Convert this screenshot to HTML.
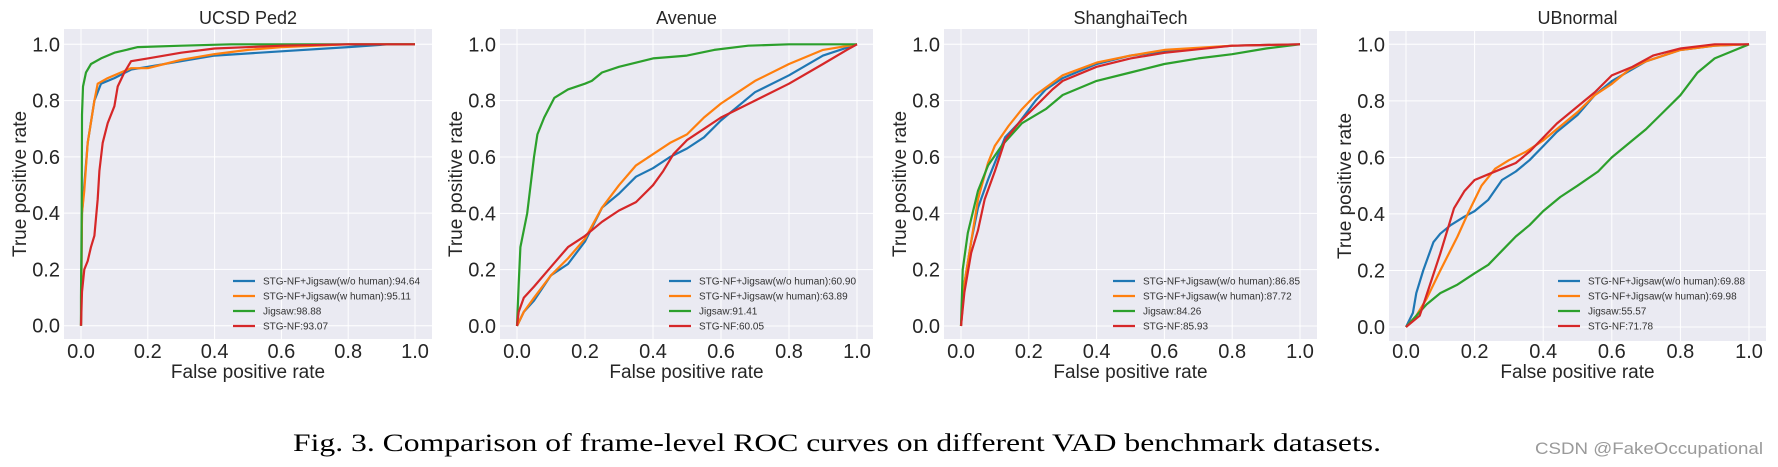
<!DOCTYPE html>
<html><head><meta charset="utf-8">
<style>
body{margin:0;background:#fff;width:1778px;height:467px;overflow:hidden}
svg{display:block;font-family:"Liberation Sans",Arial,sans-serif}
</style></head>
<body>
<svg id="fig" width="1778" height="467" viewBox="0 0 1778 467" xmlns="http://www.w3.org/2000/svg">
<text x="837" y="451" text-anchor="middle" font-family="Liberation Serif,serif" font-size="25" fill="#000" textLength="1088" lengthAdjust="spacingAndGlyphs">Fig. 3.  Comparison of frame-level ROC curves on different VAD benchmark datasets.</text>
<text x="1763" y="454" text-anchor="end" font-size="17" fill="#9a9a9a" textLength="228" lengthAdjust="spacingAndGlyphs">CSDN @FakeOccupational</text>
</svg>
<script>
const ticks=[0,0.2,0.4,0.6,0.8,1.0];
const tickLabels=["0.0","0.2","0.4","0.6","0.8","1.0"];
const seriesColors=["#1f77b4","#ff7f0e","#2ca02c","#d62728"];
const titles=["UCSD Ped2","Avenue","ShanghaiTech","UBnormal"];
const legendNames=[
["STG-NF+Jigsaw(w/o human):94.64","STG-NF+Jigsaw(w human):95.11","Jigsaw:98.88","STG-NF:93.07"],
["STG-NF+Jigsaw(w/o human):60.90","STG-NF+Jigsaw(w human):63.89","Jigsaw:91.41","STG-NF:60.05"],
["STG-NF+Jigsaw(w/o human):86.85","STG-NF+Jigsaw(w human):87.72","Jigsaw:84.26","STG-NF:85.93"],
["STG-NF+Jigsaw(w/o human):69.88","STG-NF+Jigsaw(w human):69.98","Jigsaw:55.57","STG-NF:71.78"]];
const ucsdBlue=[[0,0],[0.003,0.4],[0.01,0.5],[0.02,0.65],[0.04,0.8],[0.06,0.86],[0.1,0.88],[0.15,0.91],[0.2,0.92],[0.3,0.94],[0.4,0.96],[0.6,0.975],[0.8,0.99],[0.92,1],[1,1]];
const ucsdOrange=[[0,0],[0.003,0.4],[0.01,0.48],[0.02,0.65],[0.04,0.8],[0.05,0.86],[0.08,0.88],[0.12,0.9],[0.15,0.915],[0.2,0.915],[0.25,0.93],[0.3,0.945],[0.4,0.965],[0.5,0.98],[0.6,0.99],[0.8,1],[1,1]];
const ucsdGreen=[[0,0],[0,0.1],[0.002,0.4],[0.003,0.75],[0.006,0.85],[0.015,0.9],[0.03,0.93],[0.06,0.95],[0.1,0.97],[0.17,0.99],[0.3,0.995],[0.45,1],[1,1]];
const ucsdRed=[[0,0],[0.003,0.12],[0.01,0.2],[0.02,0.23],[0.03,0.28],[0.04,0.32],[0.05,0.45],[0.055,0.55],[0.065,0.65],[0.08,0.72],[0.1,0.78],[0.11,0.85],[0.13,0.9],[0.15,0.94],[0.2,0.95],[0.3,0.97],[0.4,0.985],[0.6,0.995],[0.8,1],[1,1]];
const avBlue=[[0,0],[0.02,0.05],[0.05,0.09],[0.1,0.18],[0.15,0.22],[0.2,0.3],[0.25,0.42],[0.3,0.47],[0.35,0.53],[0.4,0.56],[0.45,0.6],[0.5,0.63],[0.55,0.67],[0.6,0.73],[0.7,0.83],[0.8,0.89],[0.9,0.96],[1,1]];
const avOrange=[[0,0],[0.02,0.05],[0.05,0.1],[0.1,0.18],[0.15,0.24],[0.2,0.31],[0.25,0.42],[0.3,0.5],[0.35,0.57],[0.4,0.61],[0.45,0.65],[0.5,0.68],[0.55,0.74],[0.6,0.79],[0.65,0.83],[0.7,0.87],[0.8,0.93],[0.9,0.98],[1,1]];
const avGreen=[[0,0],[0.005,0.15],[0.01,0.28],[0.03,0.4],[0.05,0.6],[0.06,0.68],[0.08,0.74],[0.11,0.81],[0.15,0.84],[0.2,0.86],[0.22,0.87],[0.25,0.9],[0.3,0.92],[0.4,0.95],[0.5,0.96],[0.58,0.98],[0.68,0.995],[0.8,1],[1,1]];
const avRed=[[0,0],[0.005,0.05],[0.02,0.1],[0.05,0.14],[0.1,0.21],[0.15,0.28],[0.2,0.32],[0.25,0.37],[0.3,0.41],[0.35,0.44],[0.4,0.5],[0.43,0.55],[0.46,0.61],[0.5,0.66],[0.55,0.7],[0.6,0.74],[0.7,0.8],[0.8,0.86],[0.9,0.93],[0.97,0.98],[1,1]];
const shBlue=[[0,0],[0.01,0.15],[0.03,0.3],[0.05,0.42],[0.08,0.52],[0.1,0.58],[0.13,0.67],[0.17,0.72],[0.22,0.8],[0.25,0.84],[0.3,0.88],[0.4,0.93],[0.5,0.96],[0.6,0.975],[0.8,0.995],[1,1]];
const shOrange=[[0,0],[0.01,0.15],[0.03,0.3],[0.05,0.45],[0.08,0.58],[0.1,0.64],[0.14,0.71],[0.18,0.77],[0.22,0.82],[0.3,0.89],[0.4,0.935],[0.5,0.96],[0.6,0.98],[0.8,0.995],[1,1]];
const shGreen=[[0,0],[0.005,0.2],[0.02,0.33],[0.05,0.48],[0.08,0.57],[0.12,0.64],[0.18,0.72],[0.25,0.77],[0.3,0.82],[0.4,0.87],[0.5,0.9],[0.6,0.93],[0.7,0.95],[0.8,0.965],[0.9,0.985],[1,1]];
const shRed=[[0,0],[0.01,0.12],[0.03,0.26],[0.05,0.34],[0.07,0.45],[0.1,0.55],[0.13,0.66],[0.17,0.72],[0.22,0.78],[0.27,0.84],[0.3,0.87],[0.4,0.92],[0.5,0.95],[0.6,0.97],[0.8,0.995],[1,1]];
const ubBlue=[[0,0],[0.02,0.05],[0.03,0.12],[0.05,0.2],[0.08,0.3],[0.1,0.33],[0.13,0.36],[0.17,0.39],[0.2,0.41],[0.24,0.45],[0.28,0.52],[0.32,0.55],[0.36,0.59],[0.4,0.64],[0.44,0.69],[0.5,0.75],[0.55,0.82],[0.6,0.87],[0.7,0.94],[0.8,0.98],[0.9,0.995],[1,1]];
const ubOrange=[[0,0],[0.03,0.04],[0.06,0.1],[0.1,0.2],[0.15,0.32],[0.18,0.4],[0.22,0.5],[0.26,0.56],[0.3,0.59],[0.35,0.62],[0.4,0.66],[0.45,0.71],[0.5,0.76],[0.55,0.82],[0.6,0.86],[0.65,0.91],[0.7,0.94],[0.8,0.98],[0.9,0.995],[1,1]];
const ubGreen=[[0,0],[0.03,0.04],[0.06,0.08],[0.1,0.12],[0.15,0.15],[0.2,0.19],[0.24,0.22],[0.28,0.27],[0.32,0.32],[0.36,0.36],[0.4,0.41],[0.45,0.46],[0.5,0.5],[0.56,0.55],[0.6,0.6],[0.66,0.66],[0.7,0.7],[0.75,0.76],[0.8,0.82],[0.85,0.9],[0.9,0.95],[0.95,0.975],[1,1]];
const ubRed=[[0,0],[0.02,0.02],[0.04,0.04],[0.07,0.15],[0.1,0.26],[0.14,0.42],[0.17,0.48],[0.2,0.52],[0.24,0.54],[0.28,0.56],[0.32,0.58],[0.36,0.62],[0.4,0.67],[0.44,0.72],[0.5,0.78],[0.55,0.83],[0.6,0.89],[0.66,0.92],[0.72,0.96],[0.8,0.985],[0.9,1],[1,1]];
const panelSeries=[[ucsdBlue,ucsdOrange,ucsdGreen,ucsdRed],[avBlue,avOrange,avGreen,avRed],[shBlue,shOrange,shGreen,shRed],[ubBlue,ubOrange,ubGreen,ubRed]];
const layouts=[
{l:64,r:432,t:29,b:339,x0:81,x1:415,y0:325.7,y1:44.3},
{l:500,r:873,t:29,b:339,x0:517,x1:857,y0:326,y1:44.3},
{l:944,r:1317,t:29,b:339,x0:961,x1:1300,y0:326,y1:44.3},
{l:1389,r:1766,t:31,b:341,x0:1406,x1:1749,y0:327,y1:44.3}];
const NS="http://www.w3.org/2000/svg";
const svg=document.getElementById('fig');
function mk(tag,attrs,parent){const e=document.createElementNS(NS,tag);for(const k in attrs)e.setAttribute(k,attrs[k]);(parent||svg).appendChild(e);return e;}
layouts.forEach((L,pi)=>{
  const sx=v=>L.x0+v*(L.x1-L.x0), sy=v=>L.y0+v*(L.y1-L.y0);
  const g=mk('g',{});
  
  
  const bg=mk('rect',{x:L.l,y:L.t,width:L.r-L.l,height:L.b-L.t,fill:'#eaeaf2'},g);
  
  
  ticks.forEach((t,i)=>{
    const gx=mk('line',{x1:sx(t),x2:sx(t),y1:L.t,y2:L.b,stroke:'#fff','stroke-width':1},g);
    
    
    const gy=mk('line',{x1:L.l,x2:L.r,y1:sy(t),y2:sy(t),stroke:'#fff','stroke-width':1},g);
    
    
    const xt=mk('text',{x:sx(t),y:358,'text-anchor':'middle','font-size':20,fill:'#262626'},g);
    xt.textContent=tickLabels[i];
    
    
    const yt=mk('text',{x:L.l-4,y:sy(t)+7,'text-anchor':'end','font-size':20,fill:'#262626'},g);
    yt.textContent=tickLabels[i];
    
    
  });
  const ti=mk('text',{x:(L.l+L.r)/2,y:24,'text-anchor':'middle','font-size':18,fill:'#262626'},g);
  ti.textContent=titles[pi];
  
  
  const xl=mk('text',{x:(L.l+L.r)/2,y:378,'text-anchor':'middle','font-size':19,fill:'#262626'},g);
  xl.textContent='False positive rate';
  
  
  const yx=L.l-44, yy=(L.t+L.b)/2;
  const yl=mk('text',{x:yx,y:yy,'text-anchor':'middle','font-size':19,fill:'#262626',transform:`rotate(-90 ${yx} ${yy}) translate(0 6)`},g);
  yl.textContent='True positive rate';
  
  
  panelSeries[pi].forEach((pts,si)=>{
    const p=mk('polyline',{points:pts.map(d=>sx(d[0]).toFixed(1)+','+sy(d[1]).toFixed(1)).join(' '),fill:'none',stroke:seriesColors[si],'stroke-width':2.2,'stroke-linejoin':'round'},g);
    
    
  });
  legendNames[pi].forEach((nm,si)=>{
    const ly=281+si*15;
    const ll=mk('line',{x1:L.x0+152,x2:L.x0+174,y1:ly,y2:ly,stroke:seriesColors[si],'stroke-width':2.2},g);
    
    
    const lt=mk('text',{x:L.x0+182,y:ly+3.5,'font-size':10,fill:'#333'},g);
    lt.textContent=nm;
    
    
  });
});
</script>
</body></html>
